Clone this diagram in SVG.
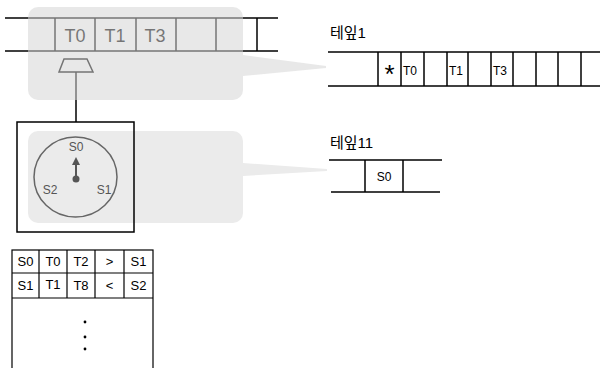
<svg xmlns="http://www.w3.org/2000/svg" width="600" height="368" viewBox="0 0 600 368">
<style>
.ln{stroke:#000;stroke-width:1.5;fill:none}
.thin{stroke:#000;stroke-width:1.2;fill:none}
.t{font-family:"Liberation Sans","Noto Sans CJK KR",sans-serif;fill:#000}
.lbl{font-family:"Liberation Sans","Noto Sans CJK KR",sans-serif;font-size:15px;fill:#000}
</style>
<defs>
<marker id="ah" markerWidth="8" markerHeight="8" refX="4" refY="4" orient="auto" markerUnits="userSpaceOnUse">
<path d="M0,0 L8,4 L0,8 z" fill="#555"/>
</marker>
</defs>
<rect width="600" height="368" fill="#fff"/>

<g id="tape-main">
<line class="ln" x1="5" y1="18" x2="278" y2="18"/>
<line class="ln" x1="5" y1="51" x2="278" y2="51"/>
<line class="ln" x1="55" y1="18" x2="55" y2="51"/>
<line class="ln" x1="95" y1="18" x2="95" y2="51"/>
<line class="ln" x1="136" y1="18" x2="136" y2="51"/>
<line class="ln" x1="176" y1="18" x2="176" y2="51"/>
<line class="ln" x1="216" y1="18" x2="216" y2="51"/>
<line class="ln" x1="257" y1="18" x2="257" y2="51"/>
<text class="t" x="75" y="42" font-size="18" text-anchor="middle">T0</text>
<text class="t" x="115" y="42" font-size="18" text-anchor="middle">T1</text>
<text class="t" x="155" y="42" font-size="18" text-anchor="middle">T3</text>
</g>
<g id="head">
<path class="ln" d="M64,59 L87,59 L93,72 L59,72 Z"/>
<line class="ln" x1="76" y1="72" x2="76" y2="122"/>
</g>

<g id="callout1">
<rect x="28" y="7" width="215" height="93" rx="10" fill="#d6d6d6" opacity="0.55"/>
<polygon points="243,55 326,66 326,68 243,76" fill="#d6d6d6" opacity="0.55"/>
</g>

<g id="callout2">
<rect x="28" y="131" width="215" height="92" rx="10" fill="#ebebeb"/>
<polygon points="243,163 327,169 327,171 243,176" fill="#ebebeb"/>
</g>

<g id="state">
<ellipse cx="75.5" cy="177" rx="41.5" ry="40" fill="none" stroke="#666" stroke-width="1.5"/>
<text class="t" x="76" y="151" font-size="12" text-anchor="middle" style="fill:#555">S0</text>
<text class="t" x="50" y="194" font-size="12" text-anchor="middle" style="fill:#555">S2</text>
<text class="t" x="104" y="194" font-size="12" text-anchor="middle" style="fill:#555">S1</text>
<line x1="76" y1="179" x2="76" y2="161" stroke="#555" stroke-width="2" marker-end="url(#ah)"/>
<circle cx="76" cy="179" r="3.5" fill="#555"/>
<rect class="ln" x="17" y="122" width="117" height="110"/>
</g>

<g id="tape1">
<text class="lbl" x="330" y="38">테잎1</text>
<line class="ln" x1="328" y1="52" x2="600" y2="52"/>
<line class="ln" x1="328" y1="86" x2="600" y2="86"/>
<line class="ln" x1="378" y1="52" x2="378" y2="86"/>
<line class="ln" x1="401" y1="52" x2="401" y2="86"/>
<line class="ln" x1="424" y1="52" x2="424" y2="86"/>
<line class="ln" x1="447" y1="52" x2="447" y2="86"/>
<line class="ln" x1="468" y1="52" x2="468" y2="86"/>
<line class="ln" x1="491" y1="52" x2="491" y2="86"/>
<line class="ln" x1="513" y1="52" x2="513" y2="86"/>
<line class="ln" x1="536" y1="52" x2="536" y2="86"/>
<line class="ln" x1="558" y1="52" x2="558" y2="86"/>
<line class="ln" x1="581" y1="52" x2="581" y2="86"/>
<text class="t" x="389.5" y="83" font-size="26" text-anchor="middle">*</text>
<text class="t" x="403" y="75" font-size="12">T0</text>
<text class="t" x="449" y="75" font-size="12">T1</text>
<text class="t" x="493" y="75" font-size="12">T3</text>
</g>

<g id="tape2">
<text class="lbl" x="330" y="148">테잎11</text>
<line class="ln" x1="329" y1="160" x2="442" y2="160"/>
<line class="ln" x1="331" y1="192" x2="440" y2="192"/>
<line class="ln" x1="365" y1="160" x2="365" y2="192"/>
<line class="ln" x1="403" y1="160" x2="403" y2="192"/>
<text class="t" x="384" y="181" font-size="12" text-anchor="middle">S0</text>
</g>

<g id="table">
<rect class="thin" x="12" y="250" width="141" height="125"/>
<line class="thin" x1="12" y1="273" x2="153" y2="273"/>
<line class="thin" x1="12" y1="298" x2="153" y2="298"/>
<line class="thin" x1="39" y1="250" x2="39" y2="298"/>
<line class="thin" x1="67" y1="250" x2="67" y2="298"/>
<line class="thin" x1="95" y1="250" x2="95" y2="298"/>
<line class="thin" x1="124" y1="250" x2="124" y2="298"/>
<g class="t" font-size="13" text-anchor="middle">
<text x="25.5" y="266">S0</text>
<text x="53" y="266">T0</text>
<text x="81" y="266">T2</text>
<text x="109.5" y="266">&gt;</text>
<text x="138.5" y="266">S1</text>
<text x="25.5" y="290">S1</text>
<text x="53" y="289">T1</text>
<text x="81" y="290">T8</text>
<text x="109.5" y="290">&lt;</text>
<text x="138.5" y="290">S2</text>
</g>
<circle cx="85" cy="322" r="1.4" fill="#000"/>
<circle cx="85" cy="337" r="1.4" fill="#000"/>
<circle cx="85" cy="349" r="1.4" fill="#000"/>
</g>
</svg>
